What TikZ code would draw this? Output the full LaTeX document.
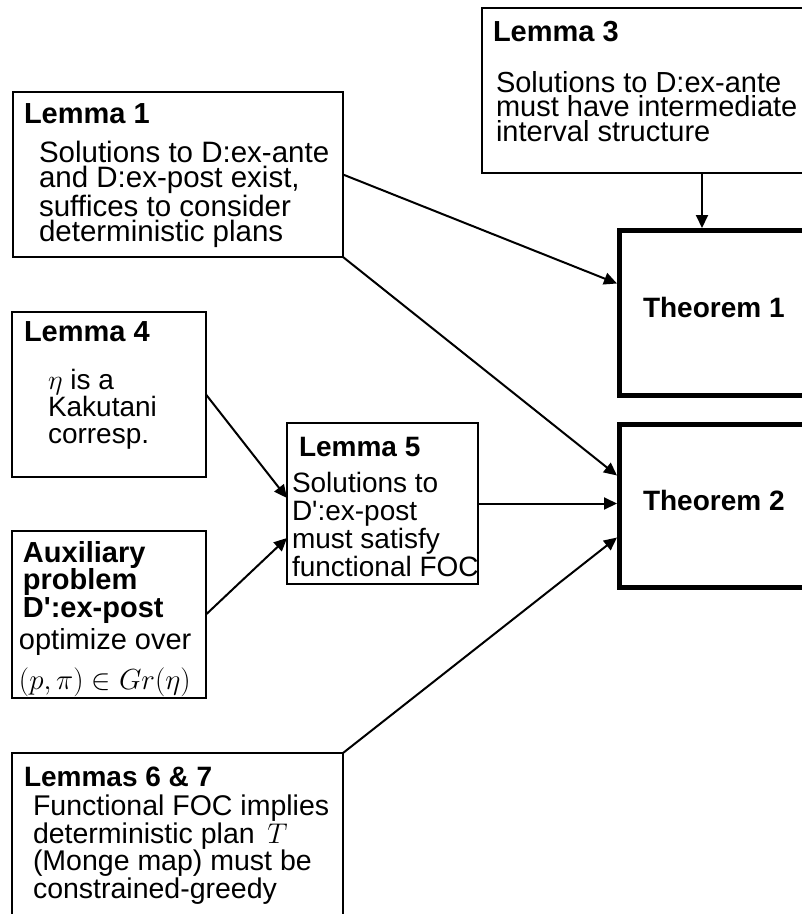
\RequirePackage{fix-cm}
\documentclass[tikz,border=0pt]{standalone}
\usepackage{amsmath,amssymb}
\usepackage{fontspec}
\setmainfont{Liberation Sans}
\usepackage{tikz}
\usetikzlibrary{arrows.meta,positioning}

\tikzset{
  lembox/.style={draw,line width=2pt,anchor=north west,inner sep=0pt,outer sep=0pt},
  thmbox/.style={draw,line width=5pt,anchor=north west,inner sep=0pt},
  hd/.style={anchor=north west,inner sep=0pt,align=left,font=\bfseries\fontsize{29}{27}\selectfont},
  bd/.style={anchor=north west,inner sep=0pt,align=left,font=\fontsize{29}{25}\selectfont},
}

\begin{document}
\begin{tikzpicture}[x=1pt,y=-1pt,line width=2pt,>={Triangle[length=13pt,width=12pt]}]
        \useasboundingbox (0,0) rectangle (802,914);
        \clip (0,0) rectangle (802,914);
        % boxes
        \node[lembox,minimum width=440pt,minimum height=165pt] (lem3) at (482,8) {};
        \node[lembox,minimum width=330pt,minimum height=165pt] (lem1) at (13,92) {};
        \node[thmbox,minimum width=300pt,minimum height=165pt] (thm1) at (617,228) {};
        \node[lembox,minimum width=194pt,minimum height=165pt] (lem4) at (12,312) {};
        \node[lembox,minimum width=191pt,minimum height=161pt] (lem5) at (287,423) {};
        \node[thmbox,minimum width=300pt,minimum height=163pt] (thm2) at (617,422) {};
        \node[lembox,minimum width=194pt,minimum height=167pt] (aux) at (12,531) {};
        \node[lembox,minimum width=331pt,minimum height=200pt] (lem67) at (12,753) {};
        % texts
        \node[hd] (lem3-hd) at ([shift={(10,12)}]lem3.north west) {Lemma 3};
        \node[bd,font=\fontsize{29}{24.5}\selectfont] (lem3-bd) at ([shift={(13,62)}]lem3.north west)
            {Solutions to D:ex-ante\\must have intermediate\\interval structure};
        \node[hd] (lem1-hd) at ([shift={(10,11)}]lem1.north west) {Lemma 1};
        \node[bd,font=\fontsize{29.5}{25.3}\selectfont] (lem1-bd) at ([shift={(25,48)}]lem1.north west)
            {Solutions to D:ex-ante\\and D:ex-post exist,\\suffices to consider\\deterministic plans};
        \node[hd] (lem4-hd) at ([shift={(11,9)}]lem4.north west) {Lemma 4};
        \node[bd,font=\fontsize{28}{27}\selectfont] (lem4-bd) at ([shift={(35,56)}]lem4.north west)
            {$\eta$ is a\\Kakutani\\corresp.};
        \node[hd,font=\bfseries\fontsize{28}{27}\selectfont] (lem5-hd) at ([shift={(11,13)}]lem5.north west) {Lemma 5};
        \node[bd,font=\fontsize{28}{28}\selectfont] (lem5-bd) at ([shift={(4,48)}]lem5.north west)
            {Solutions to\\D\textquotesingle:ex-post\\must satisfy\\functional FOC};
        \node[hd,font=\bfseries\fontsize{29}{27.5}\selectfont] (aux-hd) at ([shift={(10,9)}]aux.north west)
            {Auxiliary\\problem\\D\textquotesingle:ex-post};
        \node[bd,font=\fontsize{29}{40}\selectfont] (aux-bd) at ([shift={(6,96)}]aux.north west)
            {optimize over\\$(p,\pi)\in Gr(\eta)$};
        \node[hd,font=\bfseries\fontsize{28}{27}\selectfont] (lem67-hd) at ([shift={(11,13)}]lem67.north west) {Lemmas 6 \& 7};
        \node[bd,font=\fontsize{28.5}{27.5}\selectfont] (lem67-bd) at ([shift={(20,41)}]lem67.north west)
            {Functional FOC implies\\deterministic plan \,$T$\\(Monge map) must be\\constrained-greedy};
        \node[anchor=west,inner sep=0pt,font=\bfseries\fontsize{28}{28}\selectfont] (thm1-tx) at ([shift={(25,-5.5)}]thm1.west) {Theorem 1};
        \node[anchor=west,inner sep=0pt,font=\bfseries\fontsize{28}{28}\selectfont] (thm2-tx) at ([shift={(25,-5.5)}]thm2.west) {Theorem 2};
        % arrows
        \draw[->] (lem3.south) -- (lem3.south |- thm1.north);
        \draw[->] (lem1.east) -- ([shift={(0,-29.5)}]thm1.west);
        \draw[->] (lem1.south east) -- ([shift={(0,-30.5)}]thm2.west);
        \draw[->] (lem4.east) -- ([shift={(0,-5.5)}]lem5.west);
        \draw[->] (aux.east) -- ([shift={(0,34.5)}]lem5.west);
        \draw[->] (lem5.east) -- (lem5.east -| thm2.west);
        \draw[->] (lem67.north east) -- ([shift={(0,31.5)}]thm2.west);
\end{tikzpicture}
\end{document}
